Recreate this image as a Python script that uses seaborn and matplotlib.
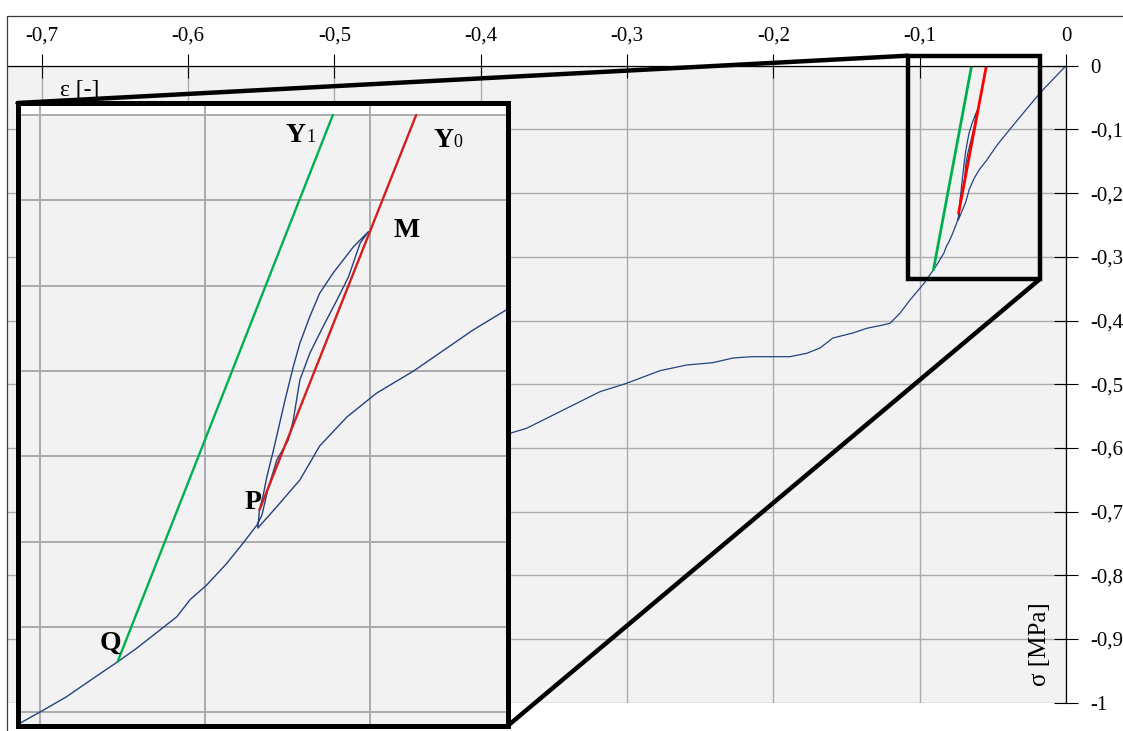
import matplotlib
matplotlib.use("Agg")
import matplotlib.pyplot as plt
import seaborn as sns
from matplotlib.patches import Rectangle, ConnectionPatch
from matplotlib.lines import Line2D


# measured curve: loading, unload/reload loop (P -> M -> P), further loading
strain = [
    0.0, -0.0178, -0.0314, -0.0434, -0.0475, -0.0511, -0.0547, -0.0592,
    -0.0628, -0.0661, -0.0685, -0.0713, -0.0736,
    -0.0734, -0.0729, -0.0725, -0.0717, -0.0703, -0.0693, -0.0685, -0.0673,
    -0.0661, -0.0645, -0.0620, -0.0602,
    -0.0612, -0.0626, -0.0640, -0.0657, -0.0673, -0.0685, -0.0693, -0.0699,
    -0.0713, -0.0724, -0.0731, -0.0737,
    -0.0754, -0.0774, -0.0798, -0.0818, -0.0834, -0.0855, -0.0883, -0.0906,
    -0.0935, -0.0968, -0.0996,
    -0.1066, -0.1135, -0.1203, -0.1251, -0.1362, -0.1456, -0.1593, -0.1681,
    -0.1772, -0.1887, -0.2003, -0.2139, -0.2180, -0.2276, -0.2413, -0.2593,
    -0.2775, -0.3003, -0.3185, -0.3322, -0.3527, -0.3686, -0.3800, -0.4000,
]
stress = [
    0.0, -0.0429, -0.0805, -0.114, -0.126, -0.138, -0.150, -0.163,
    -0.177, -0.194, -0.2139, -0.2296, -0.2421,
    -0.2315, -0.2218, -0.2120, -0.1964, -0.1671, -0.1475, -0.1338, -0.1182,
    -0.1045, -0.0928, -0.0772, -0.0684,
    -0.0752, -0.0948, -0.1084, -0.1241, -0.1397, -0.1553, -0.1788, -0.1905,
    -0.2022, -0.2198, -0.2345, -0.2403,
    -0.251, -0.263, -0.2755, -0.284, -0.294, -0.302, -0.3126, -0.3205,
    -0.330, -0.341, -0.3488,
    -0.3678, -0.3887, -0.4044, -0.4070, -0.4123, -0.4196, -0.4275, -0.4432,
    -0.4515, -0.4568, -0.4568, -0.4568, -0.4573, -0.4589, -0.4662, -0.4699,
    -0.4788, -0.4986, -0.5118, -0.5275, -0.5510, -0.5692, -0.5771, -0.600,
]

# elastic lines Y1 (through Q) and Y0 (through P and M)
y1_strain = [-0.0906, -0.0645]
y1_stress = [-0.3205, 0.0]
y0_strain = [-0.0734, -0.0544]
y0_stress = [-0.2315, 0.0]

x_ticks = [-0.7, -0.6, -0.5, -0.4, -0.3, -0.2, -0.1, 0.0]
x_tick_labels = ["-0,7", "-0,6", "-0,5", "-0,4", "-0,3", "-0,2", "-0,1", "0"]
y_ticks = [0.0, -0.1, -0.2, -0.3, -0.4, -0.5, -0.6, -0.7, -0.8, -0.9, -1.0]
y_tick_labels = ["0", "-0,1", "-0,2", "-0,3", "-0,4", "-0,5", "-0,6",
                 "-0,7", "-0,8", "-0,9", "-1"]

# zoomed region and the magnified view
zoom_x = [-0.1082, -0.0178]
zoom_y = [-0.3349, 0.0157]
inset_xlim = [-0.10273, -0.04333]
inset_ylim = [-0.3581, 0.00703]
inset_x_grid = [-0.10, -0.08, -0.06]
inset_y_grid = [0.0, -0.05, -0.10, -0.15, -0.20, -0.25, -0.30, -0.35]

CURVE = "#24427f"
GREEN = "#00b050"
RED = "#ff0000"
DARK_RED = "#d21e1e"
GRID = "#ababab"
FACE = "#f2f2f2"

sns.set_style("white")
plt.rcParams["font.family"] = ["Liberation Serif", "DejaVu Serif"]
plt.rcParams["text.color"] = "black"

W, H = 1123, 731
fig = plt.figure(figsize=(W / 100, H / 100), dpi=100)

# ---- main chart ----
ax = fig.add_axes([8 / W, (H - 702.7) / H, (1066 - 8) / W, 637 / H])
ax.set_facecolor(FACE)
sns.lineplot(x=strain, y=stress, sort=False, estimator=None, color=CURVE,
             lw=0.9, ax=ax)
sns.lineplot(x=y1_strain, y=y1_stress, sort=False, estimator=None,
             color=GREEN, lw=2.0, ax=ax)
sns.lineplot(x=y0_strain, y=y0_stress, sort=False, estimator=None,
             color=RED, lw=2.0, ax=ax)

ax.set_xlim(-0.723, 0)
ax.set_ylim(-1, 0)
ax.xaxis.tick_top()
ax.yaxis.tick_right()
ax.set_xticks(x_ticks, x_tick_labels)
ax.set_yticks(y_ticks, y_tick_labels)
ax.set_xlabel("")
ax.set_ylabel("")
ax.tick_params(direction="inout", length=17, width=0.8, labelsize=15,
               colors="black")
ax.tick_params(axis="x", pad=6)
ax.tick_params(axis="y", pad=9)
ax.grid(True, color=GRID, lw=1.0)
ax.set_axisbelow(True)
for side in ["left", "bottom"]:
    ax.spines[side].set_visible(False)
for side in ["top", "right"]:
    ax.spines[side].set_color("black")
    ax.spines[side].set_linewidth(0.9)

ax.text(-0.6876, -0.0470, "ε [-]", fontsize=17, ha="left", va="baseline",
        zorder=8)
ax.text(-0.0178, -0.908, "σ [MPa]", fontsize=18, rotation=90,
        ha="center", va="center")

ax.add_patch(Rectangle((zoom_x[0], zoom_y[0]), zoom_x[1] - zoom_x[0],
                       zoom_y[1] - zoom_y[0], fill=False, ec="black",
                       lw=3.2, clip_on=False, zorder=6))

# ---- magnified view ----
axin = fig.add_axes([17.5 / W, (H - 726) / H, 490 / W, 623 / H])
axin.set_facecolor(FACE)
axin.axhspan(0, 0.05, color="white", zorder=0)
sns.lineplot(x=strain, y=stress, sort=False, estimator=None, color=CURVE,
             lw=1.0, ax=axin)
sns.lineplot(x=y1_strain, y=y1_stress, sort=False, estimator=None,
             color=GREEN, lw=1.7, ax=axin)
sns.lineplot(x=y0_strain, y=y0_stress, sort=False, estimator=None,
             color=DARK_RED, lw=1.7, ax=axin)
axin.set_xlim(inset_xlim)
axin.set_ylim(inset_ylim)
axin.set_xticks(inset_x_grid)
axin.set_yticks(inset_y_grid)
axin.set_xlabel("")
axin.set_ylabel("")
axin.tick_params(length=0, labelbottom=False, labelleft=False)
axin.grid(True, color=GRID, lw=1.4)
axin.set_axisbelow(True)
for side in axin.spines.values():
    side.set_visible(True)
    side.set_color("black")
    side.set_linewidth(3.6)

lab = dict(fontsize=20, fontweight="bold", ha="left", va="baseline")
sub = dict(fontsize=13, ha="left", va="baseline")
axin.text(-0.07030, -0.01583, "Y", **lab)
axin.text(-0.06770, -0.01583, "1", **sub)
axin.text(-0.05236, -0.01876, "Y", **lab)
axin.text(-0.04990, -0.01876, "0", **sub)
axin.text(-0.05721, -0.0715, "M", **lab)
axin.text(-0.07515, -0.2310, "P", **lab)
axin.text(-0.09273, -0.3136, "Q", **lab)

# connectors from the zoom box to the magnified view
for pa, pb in [((zoom_x[0], zoom_y[1]), (0, 1)), ((zoom_x[1], zoom_y[0]), (1, 0))]:
    con = ConnectionPatch(xyA=pa, coordsA=ax.transData, xyB=pb,
                          coordsB=axin.transAxes, color="black", lw=3.2)
    con.set_clip_on(False)
    con.set_zorder(5)
    ax.add_artist(con)

# outer chart frame
fx, fy = 7.3 / W, 1 - 15.7 / H
fig.add_artist(Line2D([fx, 1], [fy, fy], transform=fig.transFigure,
                      color="#3a3a3a", lw=0.9))
fig.add_artist(Line2D([fx, fx], [0, fy], transform=fig.transFigure,
                      color="#3a3a3a", lw=0.9))

fig.savefig("out.png", dpi=100)
